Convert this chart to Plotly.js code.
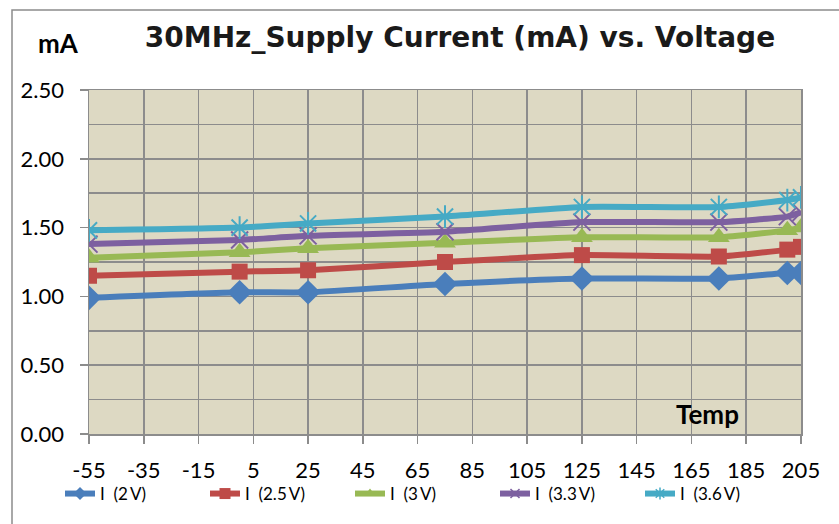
<!DOCTYPE html>
<html><head><meta charset="utf-8">
<script src="https://cdn.plot.ly/plotly-3.0.1.min.js"></script>
<style>html,body{margin:0;padding:0;background:#fff}#chart{width:839px;height:524px}</style>
</head><body><div id="chart"></div>
<script>
const temps = [-55, 0, 25, 75, 125, 175, 200, 205];
const seriesNames = ["I\u00a0\u00a0(2\u2009V)", "I\u00a0\u00a0(2.5\u2009V)", "I\u00a0\u00a0(3\u2009V)", "I\u00a0\u00a0(3.3\u2009V)", "I\u00a0\u00a0(3.6\u2009V)"];
const i2v   = [0.99, 1.03, 1.03, 1.09, 1.13, 1.13, 1.17, 1.17];
const i25v  = [1.15, 1.18, 1.19, 1.25, 1.30, 1.29, 1.34, 1.36];
const i3v   = [1.28, 1.32, 1.35, 1.39, 1.43, 1.43, 1.48, 1.50];
const i33v  = [1.38, 1.41, 1.44, 1.47, 1.54, 1.54, 1.58, 1.61];
const i36v  = [1.48, 1.50, 1.53, 1.58, 1.65, 1.65, 1.70, 1.72];
const xTickVals = [-55, -35, -15, 5, 25, 45, 65, 85, 105, 125, 145, 165, 185, 205];
const yTickVals = [0, 0.5, 1.0, 1.5, 2.0, 2.5];

const colors = ["#4A7EBB", "#BE4B48", "#98B954", "#7D60A0", "#46AAC5"];
const symbols = ["diamond", "square", "triangle-up", "x-thin-open", "asterisk-open"];
const sizes = [19, 16, 19, 17, 19];
const legSizes = [10, 11, 10, 9, 10];
const series = [i2v, i25v, i3v, i33v, i36v];
const data = [];
series.forEach((ys, k) => {
  data.push({
    x: temps, y: ys, type: "scatter", mode: "lines+markers", name: seriesNames[k], showlegend: false,
    line: {color: colors[k], width: 6, shape: "spline", smoothing: 0.5},
    marker: {symbol: symbols[k], size: sizes[k], color: colors[k],
             line: {color: colors[k], width: (k >= 3 ? 2 : 0)}}
  });
});
series.forEach((ys, k) => {
  data.push({
    x: [null], y: [null], type: "scatter", mode: "lines+markers", name: seriesNames[k], showlegend: true,
    line: {color: colors[k], width: 6},
    marker: {symbol: symbols[k], size: legSizes[k], color: colors[k],
             line: {color: colors[k], width: (k >= 3 ? 1.5 : 0)}}
  });
});

const grid = "#8C8C8C";
const layout = {
  width: 839, height: 524,
  margin: {l: 89, r: 38, t: 90, b: 90},
  paper_bgcolor: "#FFFFFF", plot_bgcolor: "#DDD9C3",
  font: {family: "Lato, 'Liberation Sans', sans-serif", color: "#000", size: 22},
  title: {text: "<b>30MHz_Supply Current (mA) vs. Voltage</b>", x: 460/839, xanchor: "center",
          y: 1 - 37/524, yanchor: "middle",
          font: {family: "'DejaVu Sans', 'Liberation Sans', sans-serif", size: 28, color: "#1a1a1a"}},
  showlegend: true,
  legend: {orientation: "h", xref: "paper", yref: "paper", x: (60-89)/712, xanchor: "left",
           y: (434-494)/344, yanchor: "middle", bgcolor: "rgba(0,0,0,0)",
           font: {family: "Lato, 'Liberation Sans', sans-serif", size: 17, color: "#000"},
           traceorder: "normal", entrywidth: 100, entrywidthmode: "pixels", itemwidth: 30},
  xaxis: {range: [-55, 205], tickmode: "array", tickvals: xTickVals, ticktext: xTickVals.map(String),
          showgrid: true, gridcolor: grid, gridwidth: 1.5, zeroline: false,
          showline: true, linecolor: grid, linewidth: 1.5, mirror: true,
          ticks: "outside", ticklen: 8, tickcolor: grid, tickwidth: 1.5, ticklabelstandoff: 8,
          tickfont: {size: 22}},
  yaxis: {range: [0, 2.5], tickmode: "array", tickvals: yTickVals, ticktext: yTickVals.map(v => v.toFixed(2)),
          showgrid: true, gridcolor: grid, gridwidth: 1.5, zeroline: false,
          showline: true, linecolor: grid, linewidth: 1.5, mirror: true,
          ticks: "outside", ticklen: 8, tickcolor: grid, tickwidth: 1.5, ticklabelstandoff: 11,
          minor: {dtick: 0.25, tick0: 0, showgrid: true, gridcolor: grid, gridwidth: 1.5},
          tickfont: {size: 22}},
  annotations: [
    {text: "<b>mA</b>", xref: "paper", yref: "paper", x: (58-89)/712, y: (434-43)/344, xanchor: "center", yanchor: "middle",
     showarrow: false, font: {size: 26, family: "Lato, 'Liberation Sans', sans-serif"}},
    {text: "<b>Temp</b>", xref: "paper", yref: "paper", x: (707-89)/712, y: (434-414)/344, xanchor: "center", yanchor: "middle",
     showarrow: false, font: {size: 26, family: "Lato, 'Liberation Sans', sans-serif"}}
  ],
  shapes: [
    {type: "rect", xref: "paper", yref: "paper", x0: (12-89)/712, x1: 1.2, y0: -0.4, y1: (434-10)/344,
     line: {color: "#8C8C8C", width: 1.5}, fillcolor: "rgba(0,0,0,0)", layer: "below"}
  ]
};
Plotly.newPlot("chart", data, layout, {displayModeBar: false, staticPlot: true});
</script></body></html>
